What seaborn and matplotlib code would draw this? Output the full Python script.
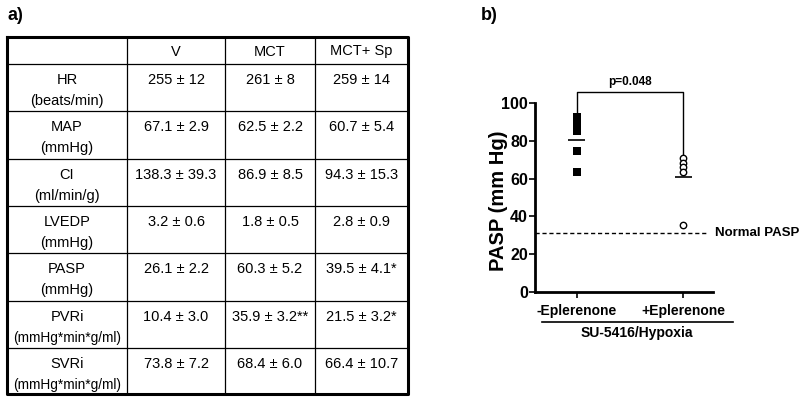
import numpy as np
import pandas as pd
import matplotlib
matplotlib.use("Agg")
import matplotlib.pyplot as plt
import seaborn as sns

# ---- data ----
col_headers = ["", "V", "MCT", "MCT+ Sp"]
row_names = ["HR", "MAP", "CI", "LVEDP", "PASP", "PVRi", "SVRi"]
row_units = ["(beats/min)", "(mmHg)", "(ml/min/g)", "(mmHg)", "(mmHg)",
             "(mmHg*min*g/ml)", "(mmHg*min*g/ml)"]
v_vals = ["255 ± 12", "67.1 ± 2.9", "138.3 ± 39.3", "3.2 ± 0.6",
          "26.1 ± 2.2", "10.4 ± 3.0", "73.8 ± 7.2"]
mct_vals = ["261 ± 8", "62.5 ± 2.2", "86.9 ± 8.5", "1.8 ± 0.5",
            "60.3 ± 5.2", "35.9 ± 3.2**", "68.4 ± 6.0"]
mctsp_vals = ["259 ± 14", "60.7 ± 5.4", "94.3 ± 15.3", "2.8 ± 0.9",
              "39.5 ± 4.1*", "21.5 ± 3.2*", "66.4 ± 10.7"]

groups = ["-Eplerenone", "+Eplerenone"]
pasp_minus = [92.5, 90.5, 88.5, 86.5, 85, 74.5, 63.5]
pasp_plus = [71, 68.5, 66, 63.5, 35.5]
pasp_means = [80.4, 61]
normal_pasp = 31
p_text = "p=0.048"

plt.rcParams['font.family'] = ['Liberation Sans', 'DejaVu Sans']

fig = plt.figure(figsize=(8, 4.01), dpi=100)

# ---- panel a: table ----
W, H = 800, 401
col_edges = [7, 127, 225, 315, 408]
row_edges = [37, 64, 111, 159, 206, 253, 301, 348, 394]
ax_a = fig.add_axes([0, 0, 1, 1])
ax_a.set_xlim(0, W)
ax_a.set_ylim(H, 0)
ax_a.axis("off")

for y in row_edges[1:-1]:
    ax_a.plot([col_edges[0], col_edges[-1]], [y, y], color="black", lw=0.9)
for x in col_edges[1:-1]:
    ax_a.plot([x, x], [row_edges[0], row_edges[-1]], color="black", lw=0.9)
ax_a.plot([col_edges[0], col_edges[-1], col_edges[-1], col_edges[0], col_edges[0]],
          [row_edges[0], row_edges[0], row_edges[-1], row_edges[-1], row_edges[0]],
          color="black", lw=2.2)

centers = [(col_edges[i] + col_edges[i + 1]) / 2 for i in range(4)]
for j, h in enumerate(col_headers):
    ax_a.text(centers[j], (row_edges[0] + row_edges[1]) / 2 + 1, h,
              ha="center", va="center", fontsize=10.5)

table_df = pd.DataFrame({"name": row_names, "unit": row_units,
                         "V": v_vals, "MCT": mct_vals, "MCTSp": mctsp_vals})
for i, r in table_df.iterrows():
    top = row_edges[i + 1]
    unit_fs = 9.8 if len(r["unit"]) > 12 else 10.5
    ax_a.text(centers[0], top + 16, r["name"], ha="center", va="center", fontsize=10.5)
    ax_a.text(centers[0], top + 37, r["unit"], ha="center", va="center", fontsize=unit_fs)
    for j, key in enumerate(["V", "MCT", "MCTSp"]):
        ax_a.text(centers[j + 1], top + 16, r[key], ha="center", va="center", fontsize=10.5)

ax_a.text(8, 15, "a)", fontsize=13, fontweight="bold", va="center", ha="left")
ax_a.text(481, 15, "b)", fontsize=13, fontweight="bold", va="center", ha="left")

# ---- panel b: scatter ----
df_b = pd.DataFrame({
    "group": [groups[0]] * len(pasp_minus) + [groups[1]] * len(pasp_plus),
    "pasp": pasp_minus + pasp_plus,
})
ax_b = fig.add_axes([535 / W, 1 - 292 / H, (713 - 535) / W, (292 - 103) / H])
sns.stripplot(data=df_b[df_b.group == groups[0]], x="group", y="pasp", order=groups,
              marker="s", color="black", size=5.5, jitter=False, ax=ax_b, zorder=3)
sns.stripplot(data=df_b[df_b.group == groups[1]], x="group", y="pasp", order=groups,
              marker="o", color="white", edgecolor="black", linewidth=1.0,
              size=4.6, jitter=False, ax=ax_b, zorder=3)
ax_b.hlines(pasp_means, [-0.08, 0.92], [0.08, 1.08], color="black", lw=1.2)
ax_b.set_xlim(-0.39, 1.28)
ax_b.set_ylim(0, 100)
ax_b.set_yticks([0, 20, 40, 60, 80, 100])
ax_b.axhline(normal_pasp, color="black", lw=1, ls=(0, (3, 2)), xmax=0.97)
ax_b.text(1.3, normal_pasp, "Normal PASP", fontsize=9.5, fontweight="bold",
          va="center", ha="left", clip_on=False)

# significance bracket
ax_b.plot([0, 0, 1, 1], [94.5, 106, 106, 72.5], color="black", lw=1, clip_on=False)
ax_b.text(0.5, 108, p_text, fontsize=8.5, fontweight="bold", ha="center", va="bottom")

for s in ["top", "right"]:
    ax_b.spines[s].set_visible(False)
for s in ["left", "bottom"]:
    ax_b.spines[s].set_linewidth(2)
ax_b.tick_params(axis="both", direction="out", length=4, width=1.2, pad=1)
ax_b.tick_params(axis="x", pad=5)
ax_b.set_xticks([0, 1])
ax_b.set_xticklabels(groups, fontsize=10, fontweight="bold")
for lab in ax_b.get_yticklabels():
    lab.set_fontweight("bold")
    lab.set_fontsize(11.5)
    lab.set_family(['Liberation Sans Narrow', 'Liberation Sans'])
ax_b.set_xlabel("")
ax_b.set_ylabel("PASP (mm Hg)", fontsize=14.5, fontweight="bold", labelpad=1)
ax_b.yaxis.set_label_coords(-0.15, 0.485)

# group underline + label
ax_a.plot([542, 733], [322, 322], color="black", lw=1.2)
ax_a.text(637, 333, "SU-5416/Hypoxia", fontsize=10, fontweight="bold",
          ha="center", va="center")

fig.savefig("out.png", dpi=100)
